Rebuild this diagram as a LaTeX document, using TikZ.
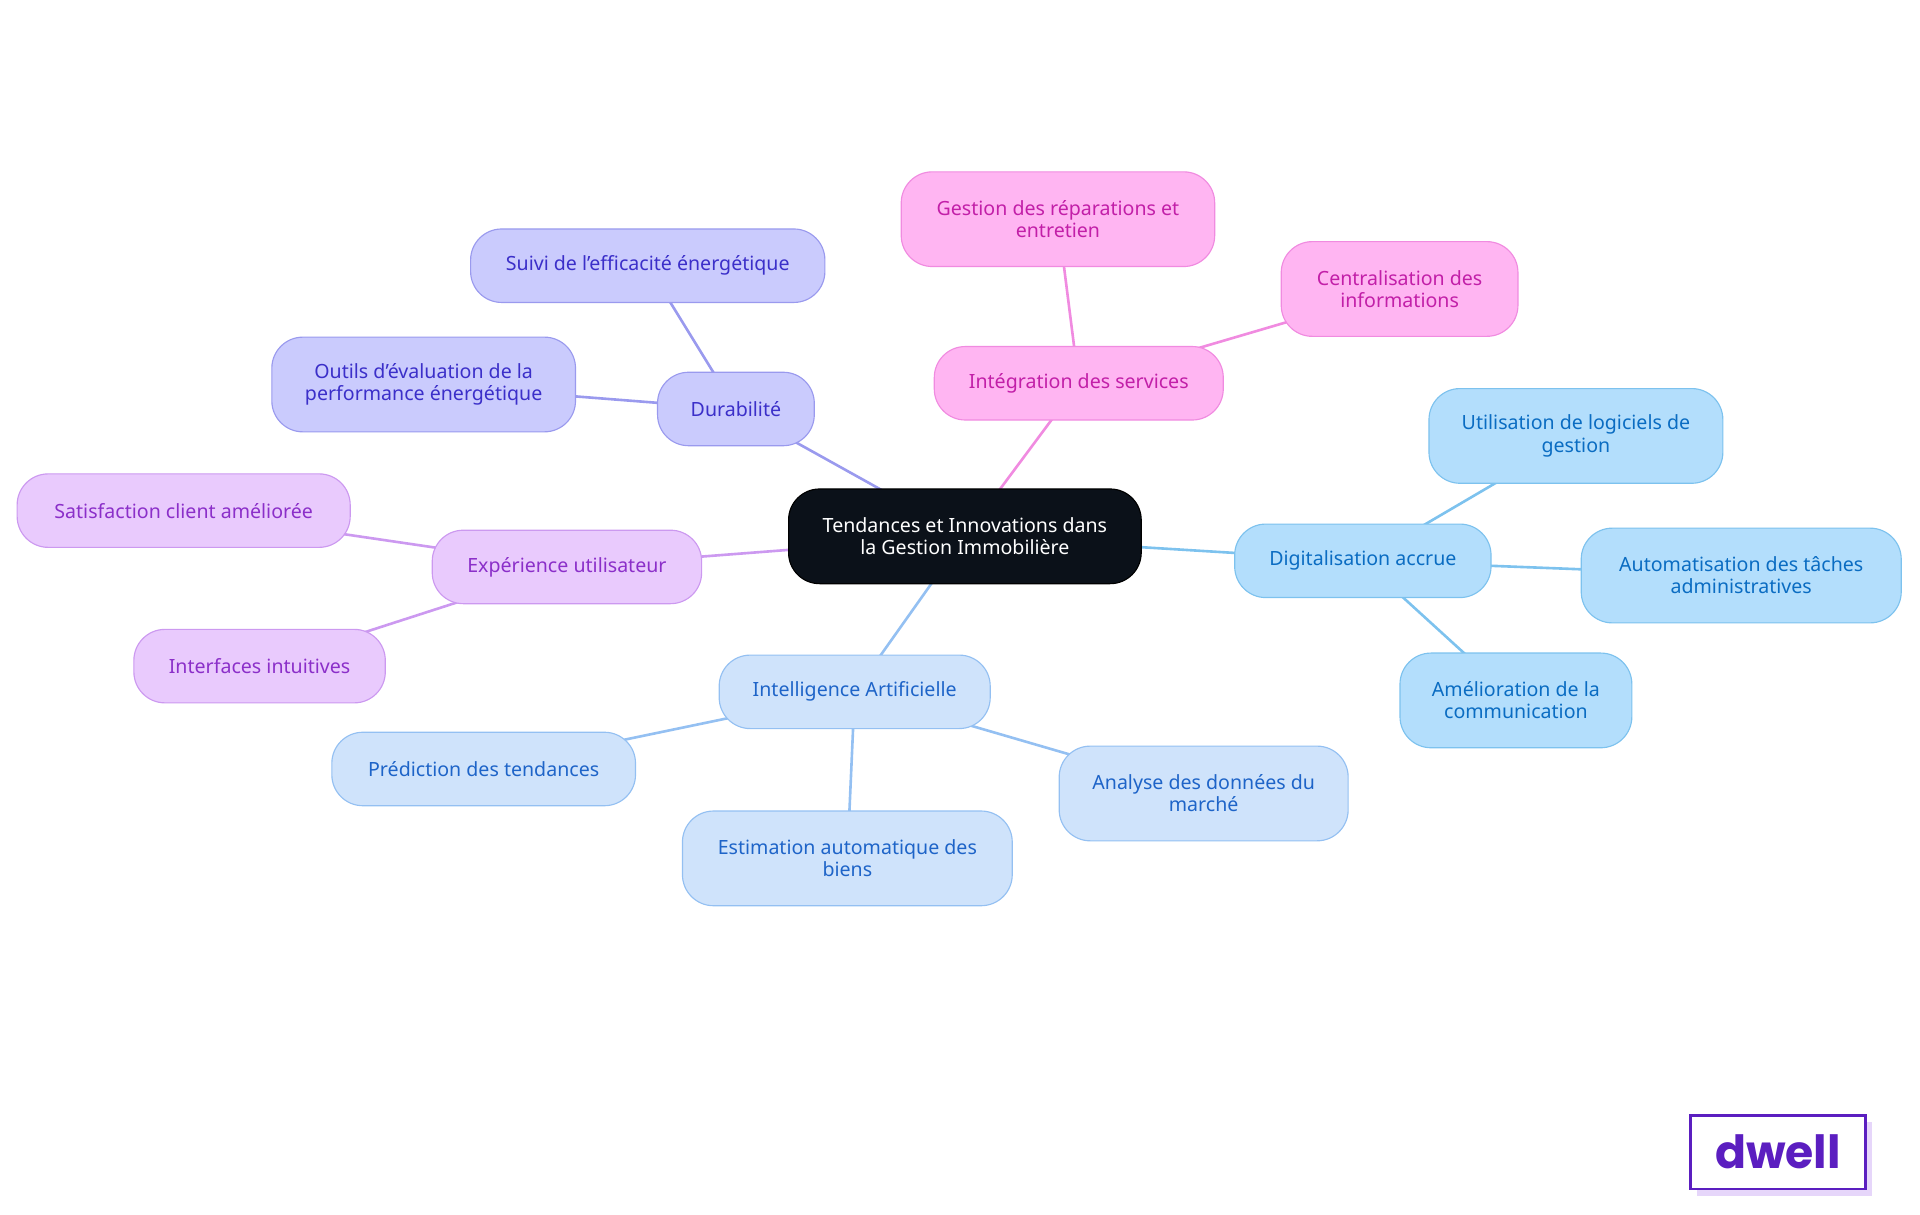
\documentclass[tikz,border=0pt]{standalone}
\usepackage{fontspec}
\setmainfont{Noto Sans}
\newfontfamily\logofont{Poppins}
\usetikzlibrary{positioning,backgrounds}
\definecolor{durfill}{HTML}{CACBFD}\definecolor{durline}{HTML}{9A9AEE}\definecolor{durtext}{HTML}{3B2FC9}
\definecolor{intfill}{HTML}{FFB5F2}\definecolor{intline}{HTML}{F08BE0}\definecolor{inttext}{HTML}{C21FA8}
\definecolor{digfill}{HTML}{B3DEFC}\definecolor{digline}{HTML}{7DC2EE}\definecolor{digtext}{HTML}{0A6CC2}
\definecolor{iafill}{HTML}{CFE3FB}\definecolor{ialine}{HTML}{94C0F2}\definecolor{iatext}{HTML}{1E64C8}
\definecolor{expfill}{HTML}{E9CAFD}\definecolor{expline}{HTML}{CC99F0}\definecolor{exptext}{HTML}{8B2FC9}
\definecolor{rootfill}{HTML}{0B1119}\definecolor{logo}{HTML}{5B1EC0}\definecolor{logoshadow}{HTML}{E6D6FA}
\tikzset{
  box/.style={rounded corners=19pt, align=center, inner sep=0pt,
    font=\fontsize{12}{13.5}\selectfont, line width=0.7pt},
  dur/.style={box, fill=durfill, draw=durline, text=durtext},
  integ/.style={box, fill=intfill, draw=intline, text=inttext},
  dig/.style={box, fill=digfill, draw=digline, text=digtext},
  ia/.style={box, fill=iafill, draw=ialine, text=iatext},
  exp/.style={box, fill=expfill, draw=expline, text=exptext},
  link/.style={line width=1.6pt}
}
\begin{document}
\begin{tikzpicture}[x=0.75pt, y=-0.75pt]
\useasboundingbox (0,0) rectangle (1568,992);
% root
\node[box, fill=rootfill, draw=black, text=white, minimum width=216pt, minimum height=58pt] (root) at (788,438) {Tendances et Innovations dans\\la Gestion Immobilière};
% Durabilite
\node[dur, minimum width=96pt, minimum height=45pt] (dura) at (601,334) {Durabilité};
\node[dur, minimum width=217pt, minimum height=45pt] (suivi) at (529,217) {Suivi de l'efficacité énergétique};
\node[dur, minimum width=186pt, minimum height=58pt] (outils) at (346,314) {Outils d'évaluation de la\\performance énergétique};
% Integration
\node[integ, minimum width=177pt, minimum height=45pt] (integ) at (881,313) {Intégration des services};
\node[integ, minimum width=192pt, minimum height=58pt] (repar) at (864,179) {Gestion des réparations et\\entretien};
\node[integ, minimum width=145pt, minimum height=58pt] (centr) at (1143,236) {Centralisation des\\informations};
% Digitalisation
\node[dig, minimum width=157pt, minimum height=45pt] (digit) at (1113,458) {Digitalisation accrue};
\node[dig, minimum width=180pt, minimum height=58pt] (logic) at (1287,356) {Utilisation de logiciels de\\gestion};
\node[dig, minimum width=196pt, minimum height=58pt] (autom) at (1422,470) {Automatisation des tâches\\administratives};
\node[dig, minimum width=142pt, minimum height=58pt] (commu) at (1238,572) {Amélioration de la\\communication};
% IA
\node[ia, minimum width=166pt, minimum height=45pt] (ia) at (698,565) {Intelligence Artificielle};
\node[ia, minimum width=186pt, minimum height=45pt] (predi) at (395,628) {Prédiction des tendances};
\node[ia, minimum width=202pt, minimum height=58pt] (estim) at (692,701) {Estimation automatique des\\biens};
\node[ia, minimum width=177pt, minimum height=58pt] (analy) at (983,648) {Analyse des données du\\marché};
% Experience
\node[exp, minimum width=165pt, minimum height=45pt] (exper) at (463,463) {Expérience utilisateur};
\node[exp, minimum width=204pt, minimum height=45pt] (satis) at (150,417) {Satisfaction client améliorée};
\node[exp, minimum width=154pt, minimum height=45pt] (inter) at (212,544) {Interfaces intuitives};
% links, centre to centre behind the boxes
\begin{scope}[on background layer]
\draw[link, durline] (root.center) -- (dura.center) (dura.center) -- (suivi.center) (dura.center) -- (outils.center);
\draw[link, intline] (root.center) -- (integ.center) (integ.center) -- (repar.center) (integ.center) -- (centr.center);
\draw[link, digline] (root.center) -- (digit.center) (digit.center) -- (logic.center) (digit.center) -- (autom.center) (digit.center) -- (commu.center);
\draw[link, ialine] (root.center) -- (ia.center) (ia.center) -- (predi.center) (ia.center) -- (estim.center) (ia.center) -- (analy.center);
\draw[link, expline] (root.center) -- (exper.center) (exper.center) -- (satis.center) (exper.center) -- (inter.center);
\end{scope}
% logo
\fill[logoshadow] (1386,916) rectangle (1529,977);
\node[draw=logo, fill=white, line width=1.5pt, minimum width=107pt, minimum height=45pt, inner sep=0pt,
  text=logo, font=\logofont\fontsize{28}{28}\selectfont\bfseries] (logo) at (1452,941) {dwell};
\end{tikzpicture}
\end{document}
